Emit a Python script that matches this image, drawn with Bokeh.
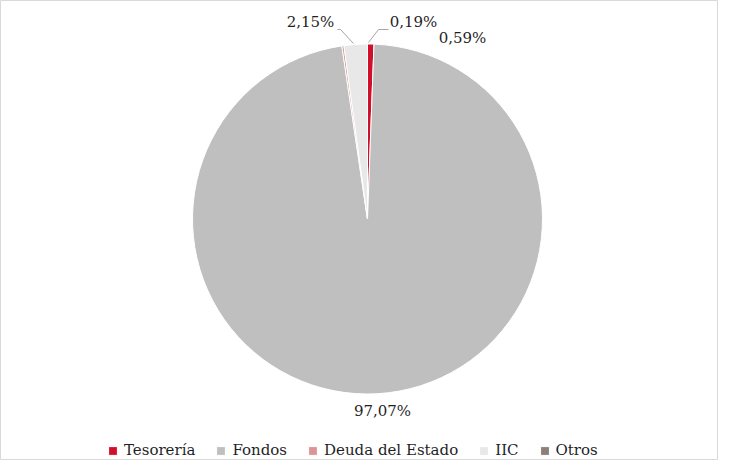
import math
from bokeh.plotting import figure
from bokeh.models import ColumnDataSource, Range1d
from bokeh.core.properties import value
from bokeh.embed import file_html
from bokeh.resources import INLINE

# ---- data ----
categories = ["Tesorería", "Fondos", "Deuda del Estado", "IIC", "Otros"]
shares = [0.59, 97.07, 0.19, 2.15, 0.0]
colors = ["#d0102b", "#bfbfbf", "#d99694", "#e8e8e8", "#8c7e78"]

# ---- layout ----
W, H = 718, 460
CX, CY, R = 367, 241.5, 175
FONT = "DejaVu Serif"
# label offsets relative to pie centre (px), None = no label
label_offsets = [(95, 181), (15, -192), (46, 197), (-57, 197), None]
# leader lines relative to pie centre (px)
leader_offsets = [None, None,
                  [(21, 189.5), (11, 189.5), (1, 176.5)],
                  [(-30, 189.5), (-27, 189.5), (-14, 175.5)],
                  None]

total = sum(shares)
starts, ends = [], []
cum = 0.0
for s in shares:
    a0 = cum / total
    cum += s
    a1 = cum / total
    # clockwise from 12 o'clock
    starts.append(math.pi / 2 - 2 * math.pi * a1)
    ends.append(math.pi / 2 - 2 * math.pi * a0)
radii = [R if s > 0 else 0 for s in shares]

src = ColumnDataSource(dict(label=categories, start=starts, end=ends,
                            color=colors, radius=radii))

p = figure(width=W, height=H, output_backend="svg", toolbar_location=None,
           x_range=Range1d(0, W), y_range=Range1d(0, H),
           x_axis_location=None, y_axis_location=None,
           min_border=0, background_fill_color="white", border_fill_color="white")
p.grid.visible = False
p.outline_line_color = "#d9d9d9"
p.outline_line_width = 1

p.wedge(x=CX, y=CY, radius="radius", start_angle="start", end_angle="end",
        direction="anticlock", fill_color="color", line_color="white",
        line_width=1, legend_field="label", source=src)

# labels
lx, ly, lt = [], [], []
for s, off in zip(shares, label_offsets):
    if off is None:
        continue
    lx.append(CX + off[0])
    ly.append(CY + off[1])
    lt.append(f"{s:.2f}".replace(".", ",") + "%")
p.text(x=lx, y=ly, text=lt, text_font=value(FONT), text_font_size="15px",
       text_color="#1f1f1f", text_align="center", text_baseline="middle")

xs, ys = [], []
for ld in leader_offsets:
    if ld is None:
        continue
    xs.append([CX + a for a, b in ld])
    ys.append([CY + b for a, b in ld])
p.multi_line(xs=xs, ys=ys, line_color="#a6a6a6", line_width=1)

lg = p.legend[0]
lg.orientation = "horizontal"
lg.location = (107, 1)
lg.label_text_font = FONT
lg.label_text_font_size = "15px"
lg.label_text_color = "#1f1f1f"
lg.label_height = 16
lg.glyph_width = 11
lg.glyph_height = 11
lg.label_standoff = 6
lg.spacing = 20
lg.padding = 0
lg.margin = 0
lg.border_line_color = None
lg.background_fill_alpha = 0

open("out.html", "w").write(file_html(p, INLINE))
